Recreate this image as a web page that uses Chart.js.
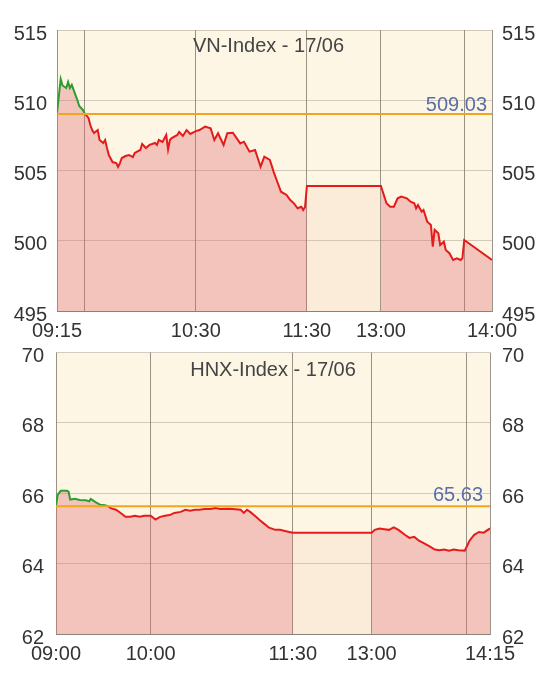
<!DOCTYPE html>
<html>
<head>
<meta charset="utf-8">
<script src="https://cdn.jsdelivr.net/npm/chart.js@4.4.0/dist/chart.umd.min.js"></script>
<style>
  html, body { margin: 0; padding: 0; background: #fff; }
  canvas { display: block; }
</style>
</head>
<body>
<canvas id="chart-vn" width="545" height="340"></canvas>
<canvas id="chart-hnx" width="545" height="337"></canvas>
<script>
// ------------------------------
// VN-Index 17/06
// ------------------------------
const vnTitle = "VN-Index - 17/06";
const vnRef = 509.03;
const vnTimes = [
  "09:15","09:17","09:18","09:20","09:21","09:22","09:23","09:25","09:26","09:27",
  "09:29","09:30","09:32","09:33","09:34","09:35","09:37","09:38","09:40","09:41",
  "09:42","09:43","09:45","09:47","09:48","09:49","09:50","09:52","09:54","09:56",
  "09:57","10:00","10:01","10:03","10:05","10:08","10:09","10:10","10:12","10:14",
  "10:15","10:16","10:17","10:20","10:21","10:23","10:25","10:27","10:30","10:32",
  "10:35","10:38","10:40","10:42","10:45","10:47","10:50","10:54","10:56","10:59",
  "11:02","11:05","11:07","11:10","11:12","11:14","11:16","11:19","11:21","11:23",
  "11:25","11:27","11:28","11:29","11:30","13:00","13:03","13:05","13:07","13:09",
  "13:11","13:14","13:16","13:18","13:19","13:20","13:22","13:23","13:25","13:27",
  "13:28","13:29","13:31","13:32","13:34","13:35","13:37","13:39","13:41","13:43",
  "13:44","13:45","14:00"
];
const vnValues = [
  509.10,511.50,511.05,510.87,511.30,510.87,511.10,510.37,510.02,509.59,
  509.31,509.05,508.74,508.24,507.88,507.67,507.88,507.17,506.96,507.17,
  506.60,506.10,505.60,505.53,505.25,505.53,505.89,506.03,506.10,505.96,
  506.25,506.46,506.89,506.60,506.82,506.96,506.82,507.17,507.03,507.53,
  506.50,507.17,507.31,507.53,507.74,507.46,507.88,507.60,507.80,507.88,
  508.12,508.00,507.17,507.65,506.82,507.65,507.69,506.93,507.05,506.34,
  506.46,505.27,505.98,505.75,504.92,504.20,503.49,503.26,502.90,502.66,
  502.31,502.42,502.19,502.40,503.90,503.90,502.67,502.42,502.42,503.02,
  503.14,503.02,502.78,502.67,502.31,502.54,502.07,502.19,501.36,501.12,
  499.58,500.77,500.53,499.70,499.93,499.34,499.11,498.63,498.75,498.63,
  498.75,500.05,498.63
];
const vnTickTimes = ["09:15","09:30","10:30","11:30","13:00","13:45","14:00"];
const vnTickLabels = ["09:15","","10:30","11:30","13:00","","14:00"];
const vnYTicks = [495, 500, 505, 510, 515];

// ------------------------------
// HNX-Index 17/06
// ------------------------------
const hnxTitle = "HNX-Index - 17/06";
const hnxRef = 65.63;
const hnxTimes = [
  "09:00","09:01","09:03","09:07","09:08","09:09","09:12","09:15","09:19","09:21",
  "09:22","09:25","09:27","09:28","09:31","09:33","09:35","09:38","09:41","09:44",
  "09:47","09:50","09:53","09:56","10:00","10:03","10:06","10:09","10:12","10:15",
  "10:19","10:22","10:25","10:28","10:31","10:34","10:38","10:41","10:44","10:50",
  "10:57","10:59","11:01","11:03","11:06","11:09","11:12","11:15","11:19","11:22",
  "11:25","11:30","13:00","13:02","13:05","13:08","13:11","13:14","13:17","13:21",
  "13:24","13:27","13:30","13:33","13:37","13:40","13:43","13:46","13:49","13:52",
  "13:55","13:59","14:02","14:05","14:08","14:11","14:15"
];
const hnxValues = [
  65.63,65.95,66.07,66.07,66.04,65.82,65.84,65.81,65.80,65.77,
  65.84,65.75,65.70,65.67,65.66,65.63,65.57,65.53,65.44,65.33,
  65.33,65.36,65.33,65.36,65.36,65.25,65.33,65.36,65.38,65.44,
  65.47,65.53,65.50,65.53,65.53,65.55,65.55,65.58,65.55,65.56,
  65.53,65.44,65.53,65.47,65.36,65.24,65.13,65.02,64.96,64.96,
  64.93,64.88,64.88,64.96,65.00,64.98,64.96,65.03,64.96,64.82,
  64.73,64.76,64.65,64.58,64.48,64.40,64.38,64.40,64.37,64.40,
  64.38,64.37,64.65,64.82,64.90,64.88,65.00
];
const hnxTickTimes = ["09:00","10:00","11:30","13:00","14:00","14:15"];
const hnxTickLabels = ["09:00","10:00","11:30","13:00","","14:15"];
const hnxYTicks = [62, 64, 66, 68, 70];

const RED = "#e51b1b";
const GREEN = "#2f9c2f";
const FONT = { family: "'Liberation Sans', Arial, sans-serif", size: 20 };

function minutes(hhmm) {
  const [h, m] = hhmm.split(":").map(Number);
  return h * 60 + m;
}

// trading time, with the lunch break squeezed into a fixed gap
function axisX(hhmm, open, gap) {
  const t = minutes(hhmm);
  const noon = minutes("11:30");
  if (t <= noon) return t - minutes(open);
  return (noon - minutes(open)) + gap + (t - minutes("13:00"));
}

function drawIndex(canvasId, cfg) {
  const toX = t => axisX(t, cfg.open, cfg.gap);
  const points = cfg.times.map((t, i) => ({ x: toX(t), y: cfg.values[i] }));
  const lunchFrom = toX("11:30");
  const lunchTo = toX("13:00");
  const xTicks = cfg.tickTimes.map(toX);
  const yMin = cfg.yTicks[0];
  const yMax = cfg.yTicks[cfg.yTicks.length - 1];
  const yStep = cfg.yTicks[1] - cfg.yTicks[0];
  const isLunch = c => c.p0.parsed.x === lunchFrom && c.p1.parsed.x === lunchTo;

  const decor = {
    id: "decor",
    beforeDraw(chart) {
      const { ctx, chartArea: a } = chart;
      ctx.save();
      ctx.fillStyle = "#fdf6e4";
      ctx.fillRect(a.left, a.top, a.right - a.left, a.bottom - a.top);
      ctx.restore();
    },
    afterDatasetsDraw(chart) {
      const { ctx, chartArea: a, scales } = chart;
      const yRef = scales.y.getPixelForValue(cfg.ref);
      ctx.save();
      ctx.strokeStyle = "#f3a41e";
      ctx.lineWidth = 2;
      ctx.beginPath();
      ctx.moveTo(a.left, yRef);
      ctx.lineTo(a.right, yRef);
      ctx.stroke();

      ctx.font = "20px " + FONT.family;
      ctx.fillStyle = "#5a6ea8";
      ctx.textAlign = "right";
      ctx.textBaseline = "alphabetic";
      ctx.fillText(cfg.ref.toFixed(2), a.right - cfg.refInset, yRef - cfg.refLift);

      ctx.fillStyle = "#444";
      ctx.textAlign = "center";
      ctx.textBaseline = "top";
      ctx.fillText(cfg.title, (a.left + a.right) / 2 + cfg.titleShift, a.top + cfg.titleGap);
      ctx.restore();
    }
  };

  const yAxis = (pos, width, showGrid) => ({
    type: "linear",
    position: pos,
    min: yMin,
    max: yMax,
    ticks: { stepSize: yStep, color: "#333", font: FONT, padding: cfg.yPad, labelOffset: 4 },
    grid: { display: showGrid, color: "rgba(130,120,105,0.35)", drawTicks: false },
    border: { display: false },
    afterFit: s => {
      s.width = width;
      s.paddingTop = 0;
      s.paddingBottom = 0;
    }
  });

  new Chart(document.getElementById(canvasId), {
    type: "line",
    data: {
      datasets: [
        {
          // price line, green above the reference
          data: points,
          borderColor: RED,
          borderWidth: 2,
          fill: false,
          pointRadius: 0,
          tension: 0,
          order: 0,
          segment: {
            borderColor: c => (c.p0.parsed.y >= cfg.ref && c.p1.parsed.y >= cfg.ref) ? GREEN : RED
          }
        },
        {
          // area under the line, lighter over the lunch break
          data: points,
          borderWidth: 0,
          backgroundColor: "rgba(224,109,114,0.36)",
          fill: "start",
          pointRadius: 0,
          tension: 0,
          order: 1,
          segment: {
            backgroundColor: c => isLunch(c) ? "rgba(240,180,160,0.15)" : undefined
          }
        }
      ]
    },
    options: {
      responsive: false,
      animation: false,
      layout: { padding: { top: cfg.padTop, left: 0, right: 0, bottom: 0 } },
      plugins: { legend: { display: false }, tooltip: { enabled: false } },
      scales: {
        x: {
          type: "linear",
          min: 0,
          max: xTicks[xTicks.length - 1],
          afterBuildTicks: s => { s.ticks = xTicks.map(v => ({ value: v })); },
          ticks: {
            autoSkip: false,
            maxRotation: 0,
            color: "#333",
            font: FONT,
            padding: 8,
            callback: (v, i) => cfg.tickLabels[i]
          },
          grid: { color: "rgba(100,90,80,0.65)", drawTicks: false },
          border: { color: "rgba(100,90,80,0.65)" },
          afterFit: s => { s.height = cfg.xHeight; }
        },
        y: yAxis("left", cfg.leftW, true),
        y2: yAxis("right", cfg.rightW, false)
      }
    },
    plugins: [decor]
  });
}

drawIndex("chart-vn", {
  title: vnTitle, ref: vnRef, times: vnTimes, values: vnValues,
  tickTimes: vnTickTimes, tickLabels: vnTickLabels, yTicks: vnYTicks,
  open: "09:15", gap: 40,
  padTop: 30, xHeight: 29, leftW: 57, rightW: 53, yPad: 10,
  refInset: 5, refLift: 3, titleGap: 6, titleShift: -6
});

drawIndex("chart-hnx", {
  title: hnxTitle, ref: hnxRef, times: hnxTimes, values: hnxValues,
  tickTimes: hnxTickTimes, tickLabels: hnxTickLabels, yTicks: hnxYTicks,
  open: "09:00", gap: 50,
  padTop: 12.5, xHeight: 43, leftW: 56, rightW: 55, yPad: 12,
  refInset: 7, refLift: 5, titleGap: 8, titleShift: 0
});
</script>
</body>
</html>
